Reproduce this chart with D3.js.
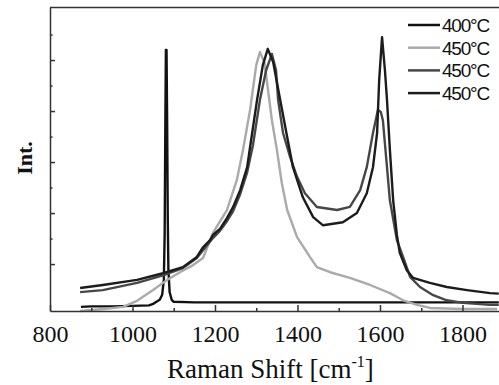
<!DOCTYPE html>
<html>
<head>
<meta charset="utf-8">
<script src="https://cdn.jsdelivr.net/npm/d3@7"></script>
<style>
  html, body { margin: 0; padding: 0; background: #fff; }
  svg { display: block; }
</style>
</head>
<body>
<div id="chart"></div>
<script>
const width = 499;
const height = 385;

// legend labels and line colours, in drawing order
const seriesLabels = ["400\u00B0C", "450\u00B0C", "450\u00B0C", "450\u00B0C"];
const seriesColors = ["#111111", "#aaaaaa", "#474747", "#1c1c1c"];

// x tick values (Raman shift, cm-1)
const majorShiftTicks = [800, 1000, 1200, 1400, 1600, 1800];
const minorShiftTicks = [900, 1100, 1300, 1500, 1700];
// y ticks (arbitrary intensity units, no labels)
const majorIntTicks = [1, 2, 3, 4, 5];
const minorIntTicks = [1.5, 2.5, 3.5, 4.5, 5.5];

// 400°C - sharp single peak near 1082
const shift400 = [875, 900, 950, 1000, 1040, 1050, 1058, 1066, 1072, 1076, 1078, 1079.5, 1081, 1082.5, 1084, 1085.5, 1087, 1090, 1095, 1100, 1150, 1300, 1500, 1700, 1888];
const int400 =   [0.16, 0.17, 0.17, 0.18, 0.19, 0.22, 0.26, 0.30, 0.40, 0.70, 1.6, 3.6, 5.2, 5.2, 3.8, 1.9, 0.9, 0.45, 0.30, 0.26, 0.25, 0.25, 0.25, 0.25, 0.25];

// 450°C light grey
const shiftA = [873, 930, 977, 1011, 1050, 1084, 1115, 1147, 1171, 1195, 1229, 1253, 1268, 1285, 1300, 1309, 1320, 1328, 1338, 1350, 1362, 1375, 1399, 1430, 1447, 1479, 1527, 1576, 1624, 1656, 1690, 1721, 1800, 1884];
const intA =   [0.08, 0.12, 0.16, 0.28, 0.49, 0.69, 0.84, 0.98, 1.12, 1.61, 2.06, 2.65, 3.24, 4.02, 4.90, 5.16, 4.95, 4.45, 3.82, 3.24, 2.59, 2.06, 1.53, 1.14, 0.94, 0.84, 0.73, 0.59, 0.43, 0.29, 0.20, 0.14, 0.12, 0.12];

// 450°C dark grey (higher valley, lower G band)
const shiftB = [873, 928, 1011, 1074, 1122, 1156, 1171, 1195, 1212, 1229, 1244, 1261, 1278, 1292, 1309, 1324, 1338, 1348, 1353, 1365, 1382, 1399, 1418, 1447, 1496, 1527, 1552, 1568, 1583, 1595, 1602, 1607, 1617, 1624, 1641, 1656, 1673, 1697, 1729, 1762, 1801, 1867, 1888];
const intB =   [0.45, 0.49, 0.63, 0.78, 0.92, 1.12, 1.27, 1.51, 1.65, 1.84, 2.04, 2.37, 2.80, 3.33, 4.22, 4.80, 5.12, 4.80, 4.22, 3.57, 3.10, 2.71, 2.39, 2.12, 2.06, 2.12, 2.45, 2.90, 3.57, 4.02, 3.98, 3.82, 2.90, 2.25, 1.47, 1.14, 0.75, 0.55, 0.39, 0.29, 0.24, 0.20, 0.20];

// 450°C black (lower valley, taller G band)
const shiftC = [873, 928, 1011, 1074, 1122, 1156, 1171, 1188, 1195, 1212, 1229, 1244, 1261, 1278, 1285, 1302, 1316, 1328, 1341, 1358, 1375, 1389, 1413, 1438, 1462, 1510, 1544, 1568, 1583, 1593, 1598, 1605, 1612, 1617, 1624, 1632, 1641, 1648, 1665, 1680, 1721, 1762, 1811, 1867, 1888];
const intC =   [0.53, 0.59, 0.69, 0.82, 0.94, 1.14, 1.33, 1.47, 1.57, 1.69, 1.90, 2.12, 2.45, 2.90, 3.29, 4.22, 4.90, 5.22, 4.96, 4.22, 3.49, 2.90, 2.31, 1.92, 1.76, 1.82, 2.00, 2.39, 2.90, 3.57, 4.60, 5.45, 4.80, 4.22, 3.24, 2.25, 1.57, 1.22, 0.88, 0.73, 0.63, 0.55, 0.49, 0.43, 0.42];

const allShift = [shift400, shiftA, shiftB, shiftC];
const allInt = [int400, intA, intB, intC];

const plotLeft = 50, plotTop = 7, plotBottom = 311;
const serif = "'Liberation Serif', 'Times New Roman', serif";

const x = d3.scaleLinear().domain([800, 1890]).range([plotLeft, 499.6]);
const y = d3.scaleLinear().domain([0.08, 6.04]).range([plotBottom, plotTop]);

const svg = d3.select("#chart")
  .append("svg")
  .attr("width", width)
  .attr("height", height);

// top frame line
svg.append("line")
  .attr("x1", plotLeft).attr("x2", width)
  .attr("y1", plotTop + 0.5).attr("y2", plotTop + 0.5)
  .attr("stroke", "#333").attr("stroke-width", 1.5);

// series lines
const line = d3.line()
  .x(d => x(d[0]))
  .y(d => y(d[1]));

allShift.forEach((xs, i) => {
  const pts = xs.map((v, j) => [v, allInt[i][j]]);
  svg.append("path")
    .datum(pts)
    .attr("d", line)
    .attr("fill", "none")
    .attr("stroke", seriesColors[i])
    .attr("stroke-width", 2.4)
    .attr("stroke-linejoin", "round");
});

// bottom axis: major with labels, minor without
const xAxis = svg.append("g")
  .attr("transform", `translate(0,${plotBottom})`)
  .call(d3.axisBottom(x)
    .tickValues(majorShiftTicks)
    .tickFormat(d3.format("d"))
    .tickSize(-6).tickSizeOuter(0).tickPadding(14))
  .attr("font-family", serif)
  .attr("font-size", 24);
svg.append("g")
  .attr("transform", `translate(0,${plotBottom})`)
  .call(d3.axisBottom(x).tickValues(minorShiftTicks).tickSize(-3).tickSizeOuter(0).tickFormat(""))
  .select(".domain").remove();

xAxis.selectAll("text").attr("fill", "#111");

// left axis: ticks only
svg.append("g")
  .attr("transform", `translate(${plotLeft},0)`)
  .call(d3.axisLeft(y).tickValues(majorIntTicks).tickSize(-5).tickSizeOuter(0).tickFormat(""));
svg.append("g")
  .attr("transform", `translate(${plotLeft},0)`)
  .call(d3.axisLeft(y).tickValues(minorIntTicks).tickSize(-2.5).tickSizeOuter(0).tickFormat(""))
  .select(".domain").remove();

svg.selectAll(".domain").attr("stroke", "#333").attr("stroke-width", 1.5);
svg.selectAll(".tick line").attr("stroke", "#333").attr("stroke-width", 1.5);

// axis titles
const xTitle = svg.append("text")
  .attr("x", 167)
  .attr("y", 378)
  .attr("fill", "#111")
  .attr("font-family", serif)
  .attr("font-size", 27);
xTitle.append("tspan").text("Raman Shift [cm");
xTitle.append("tspan").attr("dy", -11).attr("font-size", 16).text("-1");
xTitle.append("tspan").attr("dy", 11).text("]");

svg.append("text")
  .attr("transform", "translate(32,158) rotate(-90)")
  .attr("text-anchor", "middle")
  .attr("fill", "#111")
  .attr("font-family", serif)
  .attr("font-weight", "bold")
  .attr("font-size", 22)
  .text("Int.");

// legend
const legend = svg.append("g");
seriesLabels.forEach((label, i) => {
  const ly = 25 + i * 22.7;
  legend.append("line")
    .attr("x1", 408).attr("x2", 440)
    .attr("y1", ly).attr("y2", ly)
    .attr("stroke", seriesColors[i])
    .attr("stroke-width", 2.5);
  legend.append("text")
    .attr("x", 442)
    .attr("y", ly + 7)
    .attr("fill", "#111")
    .attr("font-family", "'Liberation Sans', Arial, sans-serif")
    .attr("font-size", 19)
    .attr("letter-spacing", -1.2)
    .text(label);
});
</script>
</body>
</html>
